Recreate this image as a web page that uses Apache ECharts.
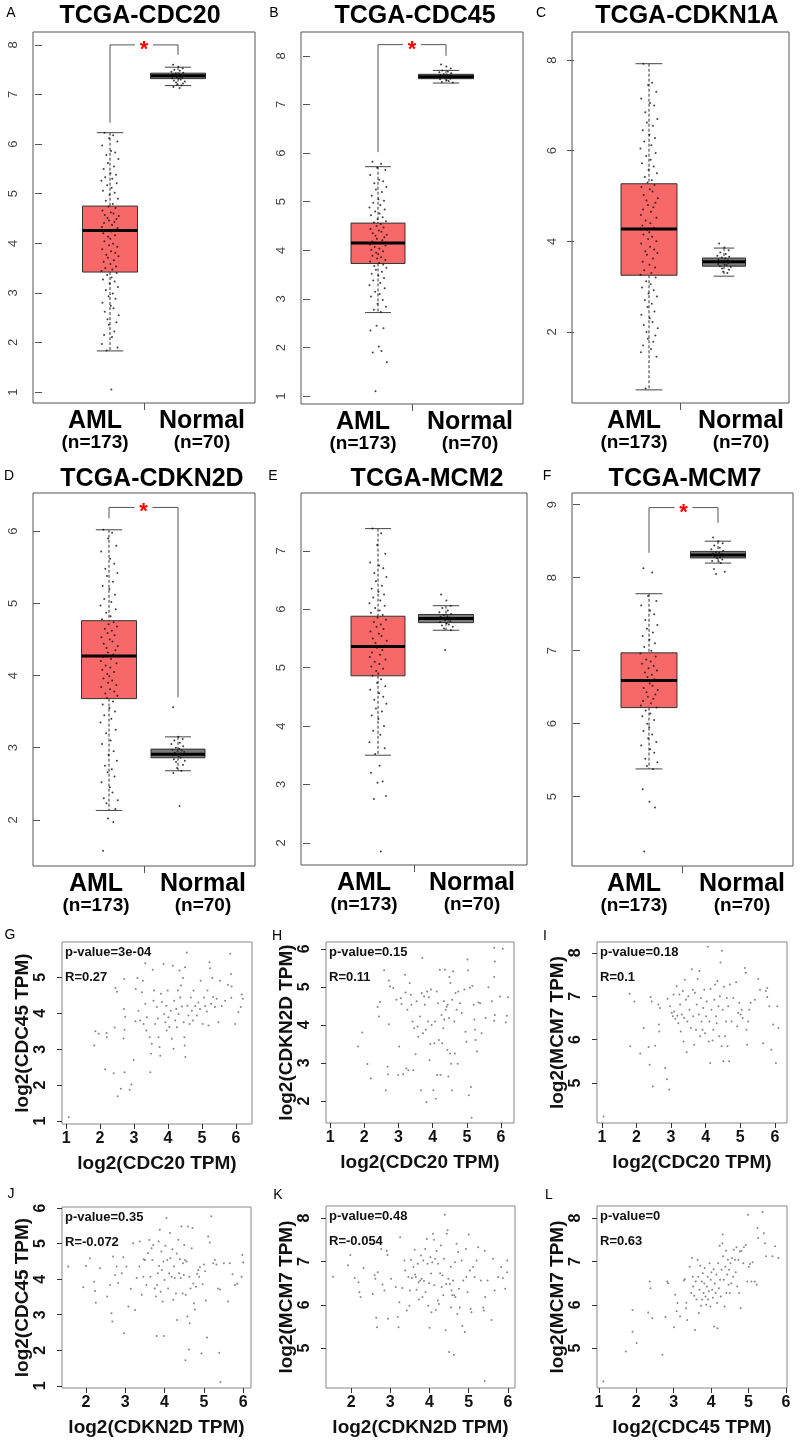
<!DOCTYPE html>
<html><head><meta charset="utf-8">
<script src="https://cdn.jsdelivr.net/npm/echarts@6/dist/echarts.min.js"></script>
<style>html,body{margin:0;padding:0;background:#fff}#c{width:800px;height:1441px}</style>
</head><body><div id="c"></div><script>
const FONT = '"Liberation Sans", Arial, sans-serif';
// ---------- box-plot panels: categories ----------
const boxCats = ['AML', 'Normal'];
const boxN = ['(n=173)', '(n=70)'];
// box stats [min(whisker), Q1, median, Q3, max(whisker)]
const A_boxAML = [1.83, 3.42, 4.26, 4.75, 6.23], A_boxNor = [7.18, 7.32, 7.38, 7.43, 7.55];
const B_boxAML = [2.72, 3.73, 4.15, 4.56, 5.72], B_boxNor = [7.44, 7.53, 7.57, 7.62, 7.70];
const C_boxAML = [0.72, 3.25, 4.27, 5.27, 7.92], C_boxNor = [3.23, 3.45, 3.55, 3.63, 3.85];
const D_boxAML = [2.13, 3.68, 4.27, 4.76, 6.02], D_boxNor = [2.68, 2.86, 2.91, 2.98, 3.15];
const E_boxAML = [3.50, 4.86, 5.36, 5.88, 7.38], E_boxNor = [5.64, 5.77, 5.84, 5.91, 6.06];
const F_boxAML = [5.38, 6.22, 6.59, 6.97, 7.78], F_boxNor = [8.20, 8.27, 8.31, 8.36, 8.50];
// significance brackets [leftBottom, top, rightBottom]
const A_sig = [6.43, 8.0, 7.8], B_sig = [6.02, 8.23, 8.0], D_sig = [6.18, 6.33, 3.70], F_sig = [8.34, 8.96, 8.75];
// individual sample values
const A_aml = [6.23,6.18,6.12,6.05,5.97,5.86,5.83,5.78,5.7,5.62,5.55,5.5,5.41,5.38,5.33,5.3,5.26,5.21,5.17,5.12,5.06,5.02,4.98,4.9,4.86,4.79,4.74,4.71,4.66,4.62,4.6,4.57,4.55,4.51,4.49,4.46,4.43,4.41,4.37,4.33,4.31,4.27,4.24,4.2,4.16,4.13,4.09,4.04,3.99,3.96,3.93,3.88,3.84,3.81,3.77,3.74,3.71,3.66,3.63,3.58,3.53,3.5,3.47,3.44,3.4,3.36,3.31,3.27,3.23,3.19,3.12,3.06,2.99,2.93,2.88,2.8,2.74,2.69,2.62,2.55,2.47,2.41,2.36,2.22,2.15,2.11,1.97,1.9,1.84,1.05];
const A_nor = [7.6,7.56,7.53,7.5,7.48,7.46,7.44,7.43,7.42,7.41,7.4,7.39,7.38,7.37,7.36,7.35,7.34,7.33,7.32,7.3,7.28,7.26,7.24,7.22,7.2,7.18,7.15,7.13];
const B_aml = [5.82,5.78,5.7,5.65,5.55,5.45,5.42,5.38,5.3,5.25,5.2,5.12,5.05,5.02,4.98,4.93,4.88,4.84,4.8,4.76,4.72,4.68,4.64,4.6,4.57,4.54,4.5,4.47,4.44,4.41,4.38,4.35,4.32,4.3,4.27,4.24,4.21,4.18,4.15,4.12,4.1,4.07,4.04,4.01,3.98,3.95,3.92,3.89,3.86,3.83,3.8,3.77,3.74,3.71,3.68,3.64,3.6,3.56,3.52,3.48,3.43,3.38,3.33,3.28,3.22,3.15,3.1,3.05,2.98,2.9,2.84,2.78,2.73,2.45,2.4,2.35,2.02,1.93,1.9,1.7,1.1];
const B_nor = [7.82,7.78,7.74,7.7,7.68,7.66,7.64,7.62,7.61,7.6,7.59,7.58,7.57,7.56,7.55,7.54,7.53,7.52,7.5,7.48,7.46,7.45];
const C_aml = [7.92,7.5,7.45,7.3,7.15,7.05,7.0,6.85,6.7,6.62,6.55,6.45,6.35,6.28,6.2,6.12,6.05,5.95,5.88,5.8,5.72,5.65,5.58,5.5,5.42,5.35,5.3,5.24,5.2,5.15,5.1,5.02,4.95,4.9,4.85,4.8,4.75,4.7,4.65,4.58,4.52,4.46,4.4,4.35,4.3,4.25,4.2,4.15,4.1,4.05,4.0,3.95,3.88,3.82,3.78,3.74,3.7,3.62,3.55,3.48,3.42,3.36,3.3,3.26,3.2,3.12,3.05,2.98,2.92,2.85,2.78,2.7,2.62,2.55,2.45,2.38,2.3,2.22,2.15,2.08,2.0,1.92,1.85,1.78,1.7,1.62,1.55,1.45,0.75];
const C_nor = [3.95,3.86,3.8,3.75,3.72,3.68,3.66,3.64,3.62,3.6,3.58,3.57,3.56,3.55,3.54,3.53,3.52,3.5,3.49,3.47,3.45,3.43,3.4,3.37,3.33,3.3];
const D_aml = [6.02,5.98,5.9,5.8,5.72,5.62,5.55,5.48,5.42,5.38,5.3,5.24,5.2,5.12,5.06,5.02,4.97,4.92,4.87,4.82,4.78,4.74,4.71,4.68,4.65,4.62,4.59,4.56,4.53,4.5,4.47,4.44,4.41,4.38,4.35,4.32,4.29,4.26,4.23,4.2,4.17,4.14,4.11,4.08,4.05,4.02,3.99,3.96,3.93,3.9,3.87,3.84,3.81,3.78,3.75,3.72,3.69,3.64,3.6,3.55,3.5,3.45,3.4,3.35,3.25,3.2,3.1,3.05,2.95,2.9,2.82,2.75,2.7,2.66,2.6,2.52,2.45,2.38,2.3,2.27,2.23,2.15,2.02,1.97,1.57];
const D_nor = [3.56,3.15,3.12,3.1,3.07,3.05,3.02,3.0,2.98,2.97,2.96,2.95,2.94,2.93,2.92,2.91,2.9,2.89,2.88,2.86,2.84,2.82,2.8,2.76,2.72,2.68,2.65,2.19];
const E_aml = [7.38,7.3,7.1,6.95,6.8,6.75,6.7,6.62,6.55,6.48,6.4,6.35,6.3,6.25,6.2,6.15,6.1,6.06,6.02,5.98,5.94,5.9,5.86,5.82,5.78,5.74,5.7,5.66,5.62,5.58,5.54,5.5,5.46,5.42,5.38,5.34,5.3,5.26,5.22,5.18,5.14,5.1,5.06,5.02,4.98,4.94,4.9,4.86,4.8,4.74,4.68,4.62,4.56,4.5,4.45,4.38,4.3,4.25,4.18,4.12,4.0,3.92,3.85,3.72,3.62,3.52,3.32,3.2,3.05,3.03,2.8,2.75,1.85];
const E_nor = [6.25,6.15,6.06,6.02,5.98,5.95,5.92,5.9,5.88,5.87,5.86,5.85,5.84,5.83,5.82,5.81,5.8,5.78,5.76,5.74,5.72,5.7,5.67,5.64,5.3];
const F_aml = [8.13,8.07,7.75,7.68,7.62,7.55,7.5,7.42,7.35,7.3,7.25,7.2,7.15,7.1,7.05,7.0,6.96,6.92,6.88,6.85,6.82,6.79,6.76,6.73,6.7,6.67,6.64,6.61,6.58,6.55,6.52,6.49,6.46,6.43,6.4,6.37,6.34,6.31,6.28,6.25,6.22,6.18,6.14,6.1,6.05,6.0,5.95,5.9,5.85,5.8,5.75,5.7,5.65,5.6,5.52,5.47,5.42,5.38,5.1,4.93,4.85,4.25];
const F_nor = [8.55,8.5,8.47,8.44,8.41,8.39,8.37,8.35,8.34,8.33,8.32,8.31,8.3,8.29,8.28,8.27,8.25,8.23,8.22,8.2,8.12,8.08,8.05];
// fixed horizontal jitter pattern (fraction of jitter half-width)
const jitter = [-0.62,0.35,-0.1,0.81,-0.87,0.12,0.58,-0.41,0.93,-0.23,0.44,-0.7,0.05,0.67,-0.53,0.26,-0.95,0.74,-0.31,0.18,-0.78,0.52,-0.05,0.88,-0.46,0.31,-0.16,0.61,-0.84,0.09,0.39,-0.58,0.97,-0.28,0.71,-0.12,0.48,-0.66,0.22,-0.9,0.83,-0.37,0.15,-0.74,0.56,-0.2,0.03];
// y tick labels
const A_yt = [1,2,3,4,5,6,7,8], B_yt = [1,2,3,4,5,6,7,8], C_yt = [2,4,6,8], D_yt = [2,3,4,5,6], E_yt = [2,3,4,5,6,7], F_yt = [5,6,7,8,9];

// ---------- scatter panels ----------
const G_pts = [[1.08,1.11],[1.83,3.1],[1.86,3.5],[1.96,3.43],[2.15,2.44],[2.2,3.33],[2.19,3.45],[2.4,2.33],[2.45,4.7],[2.5,4.6],[2.43,3.6],[2.52,1.69],[2.61,1.9],[2.71,4.95],[2.7,4.12],[2.74,3.9],[2.72,3.54],[2.69,3.3],[2.72,2.36],[2.87,1.87],[2.92,2.02],[2.99,2.7],[3.04,3.78],[3.05,4.67],[3.1,4.98],[3.13,4.07],[3.18,3.8],[3.23,4.58],[3.26,4.9],[3.28,3.7],[3.33,4.26],[3.36,3.52],[3.38,3.89],[3.33,5.39],[3.46,3.33],[3.48,2.36],[3.5,2.87],[3.52,3.15],[3.55,5.21],[3.57,4.35],[3.59,4.63],[3.62,3.7],[3.67,4.17],[3.7,3.85],[3.72,3.33],[3.75,3.06],[3.77,2.82],[3.79,4.54],[3.82,4.31],[3.87,5.37],[3.89,3.98],[3.92,3.75],[3.95,4.21],[3.96,3.52],[3.99,4.63],[4.01,3.89],[4.04,3.62],[4.08,4.07],[4.11,3.29],[4.14,5.32],[4.16,3.01],[4.18,4.35],[4.21,3.8],[4.24,4.12],[4.26,3.61],[4.29,4.63],[4.31,3.98],[4.34,5.19],[4.36,4.44],[4.38,4.77],[4.41,4.19],[4.44,4.98],[4.46,3.75],[4.48,3.33],[4.49,3.1],[4.5,5.28],[4.51,2.78],[4.55,5.69],[4.57,4.21],[4.6,3.94],[4.63,3.7],[4.67,4.44],[4.7,4.07],[4.73,3.8],[4.75,4.63],[4.8,4.2],[4.85,3.94],[4.89,4.3],[4.94,4.12],[4.96,4.9],[5.02,3.7],[5.06,4.44],[5.09,4.2],[5.14,4.05],[5.16,4.63],[5.19,3.66],[5.22,5.42],[5.24,5.25],[5.27,4.26],[5.3,4.98],[5.33,4.45],[5.38,4.17],[5.43,4.4],[5.48,3.75],[5.53,4.9],[5.58,4.2],[5.68,4.35],[5.76,4.79],[5.83,5.65],[5.85,5.09],[5.87,4.74],[5.86,4.43],[5.97,3.7],[6.07,4.03],[6.14,4.17],[6.17,4.52],[6.2,4.4]];
const H_pts = [[1.82,3.43],[1.94,3.8],[2.09,2.97],[2.19,2.59],[2.39,4.47],[2.43,4.22],[2.46,4.6],[2.58,5.44],[2.63,2.28],[2.68,2.9],[2.7,2.7],[2.72,5.17],[2.75,5.01],[2.72,4.02],[2.85,4.97],[2.94,4.66],[2.99,2.68],[3.02,3.43],[3.07,4.7],[3.09,4.55],[3.14,2.7],[3.19,5.32],[3.21,4.85],[3.23,2.85],[3.26,4.4],[3.29,2.81],[3.33,5.1],[3.36,4.79],[3.38,4.53],[3.41,4.09],[3.43,2.81],[3.46,3.91],[3.5,3.23],[3.53,4.62],[3.56,3.96],[3.58,3.69],[3.63,4.22],[3.66,2.28],[3.68,4.84],[3.7,5.76],[3.72,3.78],[3.75,4.75],[3.77,4.53],[3.8,3.87],[3.82,1.97],[3.84,4.88],[3.87,4.09],[3.89,4.73],[3.91,3.07],[3.93,3.5],[3.95,4.93],[3.97,4.0],[4.02,2.28],[4.05,3.52],[4.07,4.09],[4.09,2.06],[4.12,4.88],[4.13,2.68],[4.16,4.57],[4.18,3.6],[4.21,5.45],[4.23,2.68],[4.26,4.26],[4.28,3.52],[4.31,3.91],[4.33,4.62],[4.34,4.14],[4.36,5.45],[4.38,4.4],[4.41,4.48],[4.43,3.34],[4.44,4.53],[4.46,2.64],[4.48,4.18],[4.49,5.26],[4.51,3.25],[4.52,5.1],[4.54,2.98],[4.56,2.28],[4.57,4.66],[4.6,5.41],[4.63,4.09],[4.65,3.25],[4.67,4.84],[4.7,4.4],[4.73,2.98],[4.75,4.88],[4.8,4.57],[4.85,4.31],[4.93,4.93],[4.96,3.82],[4.99,3.56],[5.02,5.72],[5.04,5.44],[5.06,2.15],[5.09,4.98],[5.12,2.37],[5.14,1.56],[5.16,5.02],[5.2,4.53],[5.22,4.14],[5.24,3.87],[5.26,3.6],[5.3,3.3],[5.34,4.59],[5.39,4.57],[5.43,3.78],[5.55,4.18],[5.63,4.99],[5.73,4.62],[5.8,4.11],[5.82,4.26],[5.8,5.26],[5.82,5.67],[5.8,6.03],[5.97,4.75],[6.05,6.0],[6.14,4.06],[6.17,4.24],[6.2,4.73]];
const I_pts = [[1.05,4.23],[1.8,7.06],[1.82,5.85],[1.94,6.88],[2.11,5.68],[2.21,6.27],[2.35,5.83],[2.38,5.42],[2.41,6.98],[2.44,6.88],[2.47,4.92],[2.54,5.86],[2.63,6.81],[2.65,6.35],[2.66,6.19],[2.68,6.73],[2.83,5.35],[2.88,5.09],[2.9,6.94],[2.95,4.85],[2.97,6.77],[3.02,6.62],[3.05,6.54],[3.07,7.04],[3.09,6.65],[3.12,6.48],[3.16,7.23],[3.18,6.55],[3.21,6.38],[3.24,7.04],[3.26,6.81],[3.28,6.19],[3.31,6.58],[3.34,7.12],[3.36,5.96],[3.38,6.5],[3.4,7.38],[3.43,6.92],[3.45,5.71],[3.47,6.42],[3.5,7.0],[3.53,6.69],[3.57,6.27],[3.6,7.62],[3.63,7.15],[3.64,6.54],[3.67,5.88],[3.69,7.08],[3.72,6.23],[3.74,6.81],[3.77,7.4],[3.8,6.58],[3.82,7.58],[3.84,6.08],[3.86,6.96],[3.88,6.42],[3.91,6.23],[3.93,6.73],[3.96,7.15],[3.98,6.15],[4.01,6.54],[4.03,6.88],[4.06,8.14],[4.09,5.96],[4.11,6.42],[4.13,5.46],[4.14,7.17],[4.17,6.69],[4.2,5.98],[4.22,6.23],[4.25,6.92],[4.27,7.27],[4.3,6.54],[4.32,6.38],[4.34,7.35],[4.37,6.77],[4.39,6.08],[4.41,7.0],[4.43,7.78],[4.46,5.85],[4.47,8.05],[4.49,6.69],[4.51,5.5],[4.53,7.22],[4.56,6.08],[4.59,6.42],[4.61,6.96],[4.63,5.85],[4.65,6.77],[4.68,5.5],[4.7,7.27],[4.75,6.42],[4.8,6.96],[4.88,7.32],[4.91,6.31],[4.94,6.62],[4.97,6.85],[5.01,6.58],[5.04,6.69],[5.07,6.5],[5.13,7.65],[5.16,7.54],[5.18,6.23],[5.2,5.88],[5.23,6.42],[5.26,6.69],[5.3,6.85],[5.42,6.92],[5.52,7.4],[5.57,7.15],[5.66,5.92],[5.74,7.12],[5.78,7.19],[5.78,6.98],[5.84,6.77],[5.9,5.77],[5.95,6.35],[6.03,5.46],[6.07,6.77],[6.1,6.27]];
const J_pts = [[1.55,4.36],[1.93,3.77],[2.0,4.37],[2.1,4.59],[2.21,3.93],[2.23,3.67],[2.25,3.34],[2.36,4.31],[2.54,3.51],[2.61,3.84],[2.65,3.04],[2.67,2.81],[2.69,4.64],[2.74,4.12],[2.78,4.36],[2.82,3.89],[2.91,4.17],[2.95,4.62],[2.97,2.48],[3.03,4.36],[3.08,3.23],[3.14,3.73],[3.2,5.01],[3.25,3.13],[3.29,4.03],[3.36,4.36],[3.37,5.06],[3.42,3.56],[3.46,4.07],[3.47,4.56],[3.5,4.54],[3.54,3.84],[3.58,4.73],[3.61,5.1],[3.64,4.07],[3.67,4.87],[3.69,4.54],[3.71,4.96],[3.75,3.74],[3.78,3.51],[3.8,2.4],[3.81,3.84],[3.83,4.17],[3.85,5.06],[3.86,4.37],[3.88,5.39],[3.9,3.65],[3.92,4.78],[3.93,4.26],[3.95,3.37],[3.97,4.5],[3.98,2.4],[4.0,3.98],[4.02,4.94],[4.05,5.72],[4.07,4.54],[4.09,3.74],[4.12,4.17],[4.14,5.3],[4.15,4.59],[4.18,4.07],[4.2,4.84],[4.22,3.42],[4.24,4.36],[4.26,4.03],[4.29,3.6],[4.31,4.72],[4.32,2.85],[4.35,5.11],[4.37,4.17],[4.39,4.56],[4.41,4.03],[4.43,5.48],[4.46,3.6],[4.47,4.45],[4.49,4.12],[4.5,4.96],[4.52,4.54],[4.53,1.72],[4.54,3.56],[4.56,4.5],[4.58,2.95],[4.6,5.48],[4.62,2.02],[4.63,4.07],[4.64,2.76],[4.66,3.74],[4.69,4.87],[4.71,5.44],[4.73,3.88],[4.75,3.32],[4.77,3.15],[4.8,3.79],[4.83,4.15],[4.86,4.26],[4.88,4.07],[4.9,4.34],[4.94,1.91],[4.97,3.86],[5.0,4.41],[5.03,4.22],[5.05,3.4],[5.08,2.36],[5.11,5.2],[5.15,5.03],[5.19,5.77],[5.24,4.45],[5.28,4.54],[5.32,4.41],[5.36,3.74],[5.39,1.93],[5.42,1.11],[5.41,3.71],[5.51,4.45],[5.62,3.37],[5.66,4.45],[5.73,4.14],[5.79,3.84],[5.85,3.87],[5.96,4.07],[5.98,4.68],[6.0,4.47]];
const K_pts = [[1.54,6.65],[1.92,6.91],[1.98,7.15],[2.09,6.62],[2.19,6.52],[2.21,6.29],[2.24,6.18],[2.32,6.85],[2.55,6.25],[2.6,6.68],[2.62,6.6],[2.64,5.7],[2.66,5.48],[2.68,6.75],[2.77,7.29],[2.8,6.47],[2.85,6.33],[2.91,7.25],[2.93,7.15],[2.94,5.68],[3.02,6.6],[3.14,6.41],[3.19,5.72],[3.21,5.48],[3.23,6.06],[3.25,7.56],[3.31,6.39],[3.36,7.02],[3.38,6.79],[3.42,5.87],[3.46,6.64],[3.49,5.98],[3.5,6.33],[3.53,7.04],[3.55,6.62],[3.59,6.87],[3.62,7.27],[3.63,6.7],[3.65,6.64],[3.67,6.35],[3.7,6.95],[3.72,6.52],[3.73,6.12],[3.76,6.56],[3.78,7.14],[3.8,6.6],[3.82,6.18],[3.84,7.02],[3.86,6.55],[3.89,7.29],[3.9,6.29],[3.93,7.52],[3.95,6.95],[3.97,5.98],[3.99,6.5],[4.0,5.47],[4.02,7.1],[4.04,6.72],[4.05,5.83],[4.07,6.98],[4.09,7.64],[4.11,7.5],[4.12,6.45],[4.14,7.06],[4.16,5.88],[4.18,7.24],[4.21,6.1],[4.22,6.95],[4.24,6.02],[4.27,6.73],[4.29,7.37],[4.31,6.41],[4.33,6.68],[4.35,6.22],[4.37,7.06],[4.39,8.08],[4.41,5.41],[4.43,6.48],[4.44,7.64],[4.46,7.72],[4.48,6.6],[4.5,4.91],[4.52,6.48],[4.54,6.88],[4.55,5.94],[4.56,6.33],[4.58,6.22],[4.6,6.56],[4.62,4.85],[4.63,6.22],[4.65,6.98],[4.66,6.18],[4.69,7.41],[4.71,5.79],[4.73,7.22],[4.75,6.37],[4.77,5.94],[4.82,7.02],[4.84,5.51],[4.86,6.56],[4.9,5.37],[4.93,7.29],[4.94,6.64],[4.97,6.29],[5.0,7.62],[5.03,6.79],[5.05,5.91],[5.07,5.83],[5.11,6.87],[5.15,6.64],[5.2,7.02],[5.24,7.33],[5.31,6.56],[5.37,5.94],[5.39,5.87],[5.41,7.25],[5.42,6.18],[5.48,6.56],[5.58,5.65],[5.62,7.06],[5.66,6.33],[5.75,6.64],[5.83,6.87],[5.87,6.62],[5.93,6.37],[5.98,7.02],[5.98,6.75],[5.41,4.24]];
const L_pts = [[1.12,4.23],[1.72,4.92],[1.9,5.88],[1.9,5.38],[2.01,5.12],[2.32,5.82],[2.36,6.54],[2.38,6.38],[2.43,5.69],[2.7,4.85],[2.78,5.72],[2.83,6.54],[2.85,6.5],[3.01,5.48],[3.04,6.23],[3.08,5.85],[3.1,6.04],[3.17,5.73],[3.27,6.56],[3.3,6.59],[3.33,5.92],[3.34,6.05],[3.36,5.65],[3.43,6.88],[3.47,6.27],[3.49,7.08],[3.51,6.65],[3.52,6.42],[3.55,6.21],[3.57,5.42],[3.59,6.54],[3.61,6.12],[3.64,7.04],[3.66,6.65],[3.67,5.81],[3.69,6.35],[3.71,6.9],[3.73,5.98],[3.75,6.54],[3.76,6.12],[3.78,6.73],[3.8,6.27],[3.82,6.49],[3.83,6.85],[3.85,6.19],[3.87,6.0],[3.89,6.42],[3.91,6.65],[3.92,6.12],[3.94,6.31],[3.96,6.96],[3.98,5.96],[3.99,6.58],[4.01,6.75],[4.03,6.35],[4.05,6.16],[4.07,6.82],[4.08,5.5],[4.1,6.49],[4.12,6.27],[4.14,6.7],[4.16,6.04],[4.17,5.46],[4.19,6.96],[4.21,6.38],[4.23,7.36],[4.24,6.58],[4.26,6.19],[4.28,6.81],[4.3,7.42],[4.31,7.62],[4.32,7.12],[4.34,6.58],[4.36,5.96],[4.38,6.88],[4.4,7.25],[4.41,6.27],[4.43,6.7],[4.45,7.04],[4.47,6.46],[4.48,6.81],[4.5,6.27],[4.52,6.96],[4.54,6.5],[4.56,7.08],[4.59,6.65],[4.61,7.27],[4.64,7.04],[4.66,6.75],[4.68,7.33],[4.7,6.42],[4.73,7.04],[4.75,6.27],[4.77,7.23],[4.79,5.92],[4.81,7.25],[4.86,6.96],[4.88,7.33],[4.93,7.38],[4.97,6.54],[4.99,8.08],[5.01,6.88],[5.04,6.94],[5.08,6.54],[5.11,6.98],[5.17,6.54],[5.22,6.46],[5.24,7.77],[5.26,7.54],[5.38,8.14],[5.41,7.65],[5.44,7.42],[5.47,7.12],[5.71,7.35],[5.8,7.08],[5.64,7.12]];

// ---------- layout (pixels) ----------
const boxPanels = [
  {letter:'A', title:'TCGA-CDC20', frame:[33,32,255,403], c:[110,178], w:[55,55], lab:[95,202], y:[0.78,8.26], yt:A_yt, st:[A_boxAML,A_boxNor], pts:[A_aml,A_nor], sig:A_sig, tx:140, ty:16, lx:11, ly:13},
  {letter:'B', title:'TCGA-CDC45', frame:[301,32,523,404], c:[378,446], w:[54,55], lab:[363,470], y:[0.84,8.49], yt:B_yt, st:[B_boxAML,B_boxNor], pts:[B_aml,B_nor], sig:B_sig, tx:415, ty:16, lx:274, ly:13},
  {letter:'C', title:'TCGA-CDKN1A', frame:[572,32,789,403], c:[649,724], w:[56,43], lab:[634,741], y:[0.43,8.62], yt:C_yt, st:[C_boxAML,C_boxNor], pts:[C_aml,C_nor], sig:null, tx:687, ty:16, lx:541, ly:13},
  {letter:'D', title:'TCGA-CDKN2D', frame:[33,493,255,866], c:[109,178], w:[55,54], lab:[96,203], y:[1.36,6.53], yt:D_yt, st:[D_boxAML,D_boxNor], pts:[D_aml,D_nor], sig:D_sig, tx:152, ty:479, lx:9, ly:476},
  {letter:'E', title:'TCGA-MCM2', frame:[301,493,527,865], c:[378,446], w:[54,55], lab:[364,472], y:[1.62,7.99], yt:E_yt, st:[E_boxAML,E_boxNor], pts:[E_aml,E_nor], sig:null, tx:427, ty:479, lx:273, ly:476},
  {letter:'F', title:'TCGA-MCM7', frame:[572,493,793,866], c:[649,718], w:[56,55], lab:[634,742], y:[4.05,9.16], yt:F_yt, st:[F_boxAML,F_boxNor], pts:[F_aml,F_nor], sig:F_sig, tx:685, ty:479, lx:547, ly:476}
];
const scPanels = [
  {letter:'G', frame:[62,942,252,1124], x:[0.88,6.47], y:[0.92,5.98], xt:[1,2,3,4,5,6], yt:[1,2,3,4,5,6], xn:'log2(CDC20 TPM)', yn:'log2(CDC45 TPM)', p:'p-value=3e-04', r:'R=0.27', pts:G_pts, lx:10, ly:935},
  {letter:'H', frame:[326,942,514,1123], x:[0.88,6.38], y:[1.42,6.18], xt:[1,2,3,4,5,6], yt:[2,3,4,5,6], xn:'log2(CDC20 TPM)', yn:'log2(CDKN2D TPM)', p:'p-value=0.15', r:'R=0.11', pts:H_pts, lx:277, ly:936},
  {letter:'I', frame:[597,942,787,1123], x:[0.86,6.35], y:[4.08,8.25], xt:[1,2,3,4,5,6], yt:[5,6,7,8], xn:'log2(CDC20 TPM)', yn:'log2(MCM7 TPM)', p:'p-value=0.18', r:'R=0.1', pts:I_pts, lx:545, ly:936},
  {letter:'J', frame:[62,1207,251,1388], x:[1.39,6.2], y:[0.94,6.03], xt:[2,3,4,5,6], yt:[1,2,3,4,5,6], xn:'log2(CDKN2D TPM)', yn:'log2(CDC45 TPM)', p:'p-value=0.35', r:'R=-0.072', pts:J_pts, lx:11, ly:1194},
  {letter:'K', frame:[326,1206,515,1388], x:[1.36,6.18], y:[4.08,8.28], xt:[2,3,4,5,6], yt:[5,6,7,8], xn:'log2(CDKN2D TPM)', yn:'log2(MCM7 TPM)', p:'p-value=0.48', r:'R=-0.054', pts:K_pts, lx:278, ly:1195},
  {letter:'L', frame:[597,1206,787,1388], x:[0.95,6.03], y:[4.08,8.28], xt:[1,2,3,4,5,6], yt:[5,6,7,8], xn:'log2(CDC45 TPM)', yn:'log2(MCM7 TPM)', p:'p-value=0', r:'R=0.63', pts:L_pts, lx:549, ly:1195}
];

function txt(x, y, s, font, align, color) {
  return {type:'text', x:x, y:y, silent:true, style:{text:s, font:font, fill:color||'#000',
    textAlign:align||'center', textVerticalAlign:'middle', align:align||'center', verticalAlign:'middle'}};
}

function boxRender(widths, fills) {
  return function (params, api) {
    const i = params.dataIndex, x = api.value(0);
    const yy = k => api.coord([x, api.value(k)])[1];
    const cx = api.coord([x, api.value(3)])[0];
    const yLo = yy(1), yQ1 = yy(2), yMd = yy(3), yQ3 = yy(4), yHi = yy(5);
    const w = widths[i], h = w / 2, cap = w * 0.24, st = '#333';
    return {type:'group', children:[
      {type:'line', shape:{x1:cx,y1:yHi,x2:cx,y2:yQ3}, style:{stroke:st,lineWidth:1,lineDash:[3,2]}},
      {type:'line', shape:{x1:cx,y1:yQ1,x2:cx,y2:yLo}, style:{stroke:st,lineWidth:1,lineDash:[3,2]}},
      {type:'line', shape:{x1:cx-cap,y1:yHi,x2:cx+cap,y2:yHi}, style:{stroke:'#444',lineWidth:1}},
      {type:'line', shape:{x1:cx-cap,y1:yLo,x2:cx+cap,y2:yLo}, style:{stroke:'#444',lineWidth:1}},
      {type:'rect', shape:{x:cx-h,y:yQ3,width:w,height:yQ1-yQ3}, style:{fill:fills[i],stroke:st,lineWidth:1}},
      {type:'line', shape:{x1:cx-h,y1:yMd,x2:cx+h,y2:yMd}, style:{stroke:'#000',lineWidth:3}}
    ]};
  };
}
function sigRender(params, api) {
  const a = api.coord([api.value(0), api.value(1)]);
  const t = api.coord([api.value(0), api.value(2)]);
  const b = api.coord([api.value(3), api.value(4)]);
  const yT = t[1], mid = (a[0] + b[0]) / 2, g = 9;
  return {type:'group', children:[
    {type:'polyline', shape:{points:[[a[0],a[1]],[a[0],yT],[mid-g,yT]]}, style:{stroke:'#555',lineWidth:1,fill:'none'}},
    {type:'polyline', shape:{points:[[mid+g,yT],[b[0],yT],[b[0],b[1]]]}, style:{stroke:'#555',lineWidth:1,fill:'none'}},
    {type:'text', x:mid, y:yT-6, style:{text:'*', fill:'#ff0000', font:'bold 22px ' + FONT, textAlign:'center', textVerticalAlign:'top', align:'center', verticalAlign:'top'}}
  ]};
}

const option = {animation:false, backgroundColor:'#fff', grid:[], xAxis:[], yAxis:[], series:[], graphic:{elements:[]}};
const G = option.graphic.elements;

boxPanels.forEach((p, i) => {
  const [l, t, r, b] = p.frame;
  const ppu = p.c[1] - p.c[0];
  const xmin = 1 - (p.c[0] - l) / ppu, xmax = 2 + (r - p.c[1]) / ppu;
  const labV = p.lab.map((px, k) => 1 + (px - p.c[0]) / ppu);
  const mid = 1 + ((l + r) / 2 - p.c[0]) / ppu;
  option.grid.push({left:l, top:t, width:r-l, height:b-t, show:true, borderColor:'#555', borderWidth:1, backgroundColor:'transparent', containLabel:false, outerBoundsMode:'none'});
  option.xAxis.push({gridIndex:i, type:'value', min:xmin, max:xmax, splitLine:{show:false}, axisLine:{show:false},
    axisTick:{show:true, customValues:[mid], length:7, lineStyle:{color:'#555'}},
    axisLabel:{show:true, customValues:labV, margin:6,
      formatter: v => { const k = v < mid ? 0 : 1; return '{a|' + boxCats[k] + '}\n{b|' + boxN[k] + '}'; },
      rich:{a:{fontSize:25, fontWeight:'bold', lineHeight:24, color:'#000', fontFamily:FONT},
            b:{fontSize:19, fontWeight:'bold', lineHeight:20, color:'#000', fontFamily:FONT}}}});
  option.yAxis.push({gridIndex:i, type:'value', min:p.y[0], max:p.y[1], splitLine:{show:false}, axisLine:{show:false},
    axisTick:{show:true, customValues:p.yt, length:7, lineStyle:{color:'#555'}},
    axisLabel:{show:true, customValues:p.yt, rotate:90, margin:13, fontSize:13, color:'#444', fontFamily:FONT}});
  option.series.push({type:'custom', xAxisIndex:i, yAxisIndex:i, renderItem:boxRender(p.w, ['#F76868','#7a7a7a']),
    data:[[1].concat(p.st[0]), [2].concat(p.st[1])], encode:{x:0, y:[1,2,3,4,5]}, z:1, silent:true});
  if (p.sig) {
    option.series.push({type:'custom', xAxisIndex:i, yAxisIndex:i, renderItem:sigRender,
      data:[[1, p.sig[0], p.sig[1], 2, p.sig[2]]], encode:{x:[0,3], y:[1,2,4]}, z:2, silent:true});
  }
  const jw = [9 / ppu, 7 / ppu];
  [0, 1].forEach(k => {
    option.series.push({type:'scatter', xAxisIndex:i, yAxisIndex:i, symbol:'circle', symbolSize:2, silent:true, z:3,
      itemStyle:{color:'#111'},
      data:p.pts[k].map((v, j) => [k + 1 + jitter[(j + k * 11) % jitter.length] * jw[k], v])});
  });
  G.push(txt(p.tx, p.ty, p.title, 'bold 25px ' + FONT));
  G.push(txt(p.lx, p.ly, p.letter, '14px ' + FONT));
});

scPanels.forEach((p, n) => {
  const i = n + boxPanels.length;
  const [l, t, r, b] = p.frame;
  option.grid.push({left:l, top:t, width:r-l, height:b-t, show:true, borderColor:'#888', borderWidth:1, backgroundColor:'transparent', containLabel:false, outerBoundsMode:'none'});
  option.xAxis.push({gridIndex:i, type:'value', min:p.x[0], max:p.x[1], splitLine:{show:false}, axisLine:{show:false},
    axisTick:{show:true, customValues:p.xt, length:5, lineStyle:{color:'#333'}},
    axisLabel:{show:true, customValues:p.xt, margin:7, fontSize:16, fontWeight:'bold', color:'#111', fontFamily:FONT},
    name:p.xn, nameLocation:'middle', nameGap:30, nameTextStyle:{fontSize:19, fontWeight:'bold', color:'#111', fontFamily:FONT}});
  option.yAxis.push({gridIndex:i, type:'value', min:p.y[0], max:p.y[1], splitLine:{show:false}, axisLine:{show:false},
    axisTick:{show:true, customValues:p.yt, length:5, lineStyle:{color:'#333'}},
    axisLabel:{show:true, customValues:p.yt, rotate:90, margin:13, fontSize:16, fontWeight:'bold', color:'#111', fontFamily:FONT},
    name:p.yn, nameLocation:'middle', nameRotate:90, nameGap:24, nameTextStyle:{fontSize:19, fontWeight:'bold', color:'#111', fontFamily:FONT}});
  option.series.push({type:'scatter', xAxisIndex:i, yAxisIndex:i, symbol:'circle', symbolSize:2, silent:true,
    itemStyle:{color:'#666'}, data:p.pts});
  G.push(txt(l + 3, t + 10, p.p, 'bold 13px ' + FONT, 'left', '#111'));
  G.push(txt(l + 3, t + 35, p.r, 'bold 13px ' + FONT, 'left', '#111'));
  G.push(txt(p.lx, p.ly, p.letter, '14px ' + FONT));
});

const chart = echarts.init(document.getElementById('c'), null, {renderer:'canvas'});
chart.setOption(option);
</script></body></html>
